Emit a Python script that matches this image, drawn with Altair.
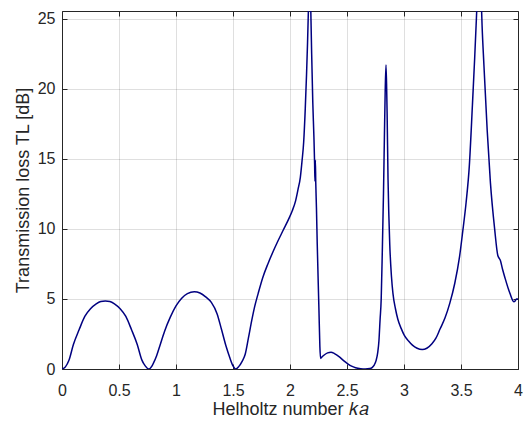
import altair as alt
import pandas as pd

# Helmholtz number ka (x) and transmission loss TL in dB (y)
ka = [
    0.0, 0.03, 0.06, 0.10, 0.15, 0.20, 0.25, 0.30, 0.34, 0.38,
    0.42, 0.46, 0.51, 0.56, 0.61, 0.66, 0.70, 0.73, 0.761,
    0.79, 0.80, 0.83, 0.86, 0.90, 0.95, 1.00, 1.05, 1.10, 1.16, 1.21, 1.26, 1.31, 1.36, 1.40, 1.44,
    1.47, 1.50, 1.525,
    1.55, 1.58, 1.607, 1.635, 1.664, 1.69, 1.721, 1.76, 1.806, 1.85, 1.892, 1.94, 1.991, 2.02, 2.049,
    2.07, 2.091, 2.105, 2.12, 2.134, 2.145, 2.154, 2.162, 2.172, 2.182, 2.19, 2.20, 2.21, 2.216, 2.219, 2.2225,
    2.226, 2.232, 2.239, 2.254, 2.262, 2.268, 2.28, 2.30, 2.33, 2.36, 2.39, 2.433, 2.47, 2.504, 2.54, 2.575,
    2.62, 2.66, 2.70, 2.72, 2.74, 2.755, 2.77, 2.78, 2.79, 2.80, 2.81, 2.82, 2.828, 2.835, 2.842, 2.848, 2.852,
    2.86, 2.867, 2.875, 2.89, 2.903, 2.925, 2.946, 2.975, 3.003, 3.04, 3.074, 3.115, 3.16, 3.20, 3.245, 3.28,
    3.316, 3.36, 3.402, 3.445, 3.487, 3.515, 3.545, 3.573, 3.60, 3.62, 3.635, 3.645, 3.66, 3.675, 3.685, 3.701,
    3.73, 3.758, 3.795, 3.823, 3.835, 3.843, 3.865, 3.886, 3.929, 3.963, 3.975, 3.986, 4.0,
]
tl = [
    0.0, 0.15, 0.6, 1.75, 2.8, 3.75, 4.3, 4.65, 4.82, 4.86,
    4.82, 4.65, 4.3, 3.75, 2.8, 1.75, 0.65, 0.22, 0.0,
    0.22, 0.38, 0.95, 1.7, 2.7, 3.7, 4.5, 5.05, 5.38, 5.51, 5.42, 5.15, 4.75, 3.95, 2.8, 1.6,
    0.85, 0.22, 0.0,
    0.17, 0.55, 1.05, 2.2, 3.45, 4.45, 5.4, 6.5, 7.5, 8.35, 9.1, 9.9, 10.75, 11.3, 12.0,
    12.8, 13.7, 14.8, 16.2, 18.6, 21.0, 23.3, 25.8, 30.0, 25.8, 22.5, 19.0, 16.5, 14.6, 13.4, 14.9,
    13.3, 11.5, 8.9, 4.2, 1.6, 0.75, 0.85, 1.0, 1.15, 1.2, 1.1, 0.86, 0.6, 0.39, 0.2, 0.09,
    0.02, 0.0, 0.03, 0.1, 0.3, 0.6, 1.2, 2.0, 3.5, 5.0, 8.5, 12.5, 16.5, 19.8, 21.7, 20.0, 18.2,
    13.5, 11.0, 8.9, 6.6, 5.4, 4.3, 3.55, 2.9, 2.4, 2.0, 1.7, 1.48, 1.39, 1.48, 1.8, 2.2,
    2.85, 3.65, 4.7, 6.1, 8.0, 9.8, 11.9, 14.5, 18.8, 22.2, 25.0, 27.0, 30.0, 27.0, 24.5, 21.7,
    17.0, 13.3, 10.0, 8.1, 7.9, 7.8, 7.1, 6.5, 5.4, 4.8, 4.85, 5.0, 5.0,
]

x_ticks = [0, 0.5, 1, 1.5, 2, 2.5, 3, 3.5, 4]
y_ticks = [0, 5, 10, 15, 20, 25]

df = pd.DataFrame({"ka": ka, "tl": tl})

FONT = "Liberation Sans"
INK = "#262626"

x_scale = alt.Scale(domain=[0, 4], nice=False)
y_scale = alt.Scale(domain=[0, 25.55], nice=False)

main = alt.Chart(df).mark_line(
    color="#000080", strokeWidth=1.5, clip=True, interpolate="monotone"
).encode(
    x=alt.X("ka:Q", scale=x_scale, axis=alt.Axis(
        orient="bottom", values=x_ticks, format="~g", title="Helholtz number 𝑘𝑎",
        offset=-5, tickSize=5, tickColor=INK, domain=False,
        labelPadding=13, labelFlush=False, labelOverlap=False,
        labelFont=FONT, labelFontSize=16, labelColor=INK,
        titleFont=FONT, titleFontSize=18, titleFontWeight="normal", titleColor=INK, titlePadding=2,
        grid=True, gridColor=INK, gridOpacity=0.15,
    )),
    y=alt.Y("tl:Q", scale=y_scale, axis=alt.Axis(
        orient="left", values=y_ticks, format="d", title="Transmission loss TL [dB]",
        offset=-5, tickSize=5, tickColor=INK, domain=False,
        labelPadding=7, labelOverlap=False,
        labelFont=FONT, labelFontSize=16, labelColor=INK,
        titleFont=FONT, titleFontSize=18, titleFontWeight="normal", titleColor=INK, titlePadding=5,
        grid=True, gridColor=INK, gridOpacity=0.15,
    )),
)

ticks = alt.Chart(df).mark_line(strokeOpacity=0, clip=True).encode(
    x=alt.X("ka:Q", scale=x_scale, axis=alt.Axis(
        orient="top", values=x_ticks, offset=-5, tickSize=5, tickColor=INK,
        domain=False, labels=False, grid=False, title=None,
    )),
    y=alt.Y("tl:Q", scale=y_scale, axis=alt.Axis(
        orient="right", values=y_ticks, offset=-5, tickSize=5, tickColor=INK,
        domain=False, labels=False, grid=False, title=None,
    )),
)

chart = alt.layer(main, ticks).resolve_axis(
    x="independent", y="independent"
).properties(
    width=456, height=358,
    autosize=alt.AutoSizeParams(type="none"),
    padding={"left": 54, "top": 3, "right": 5, "bottom": 51},
    background="white",
).configure_view(stroke=INK, strokeWidth=1)

chart.save("out.html", embed_options={"renderer": "svg", "actions": False})
